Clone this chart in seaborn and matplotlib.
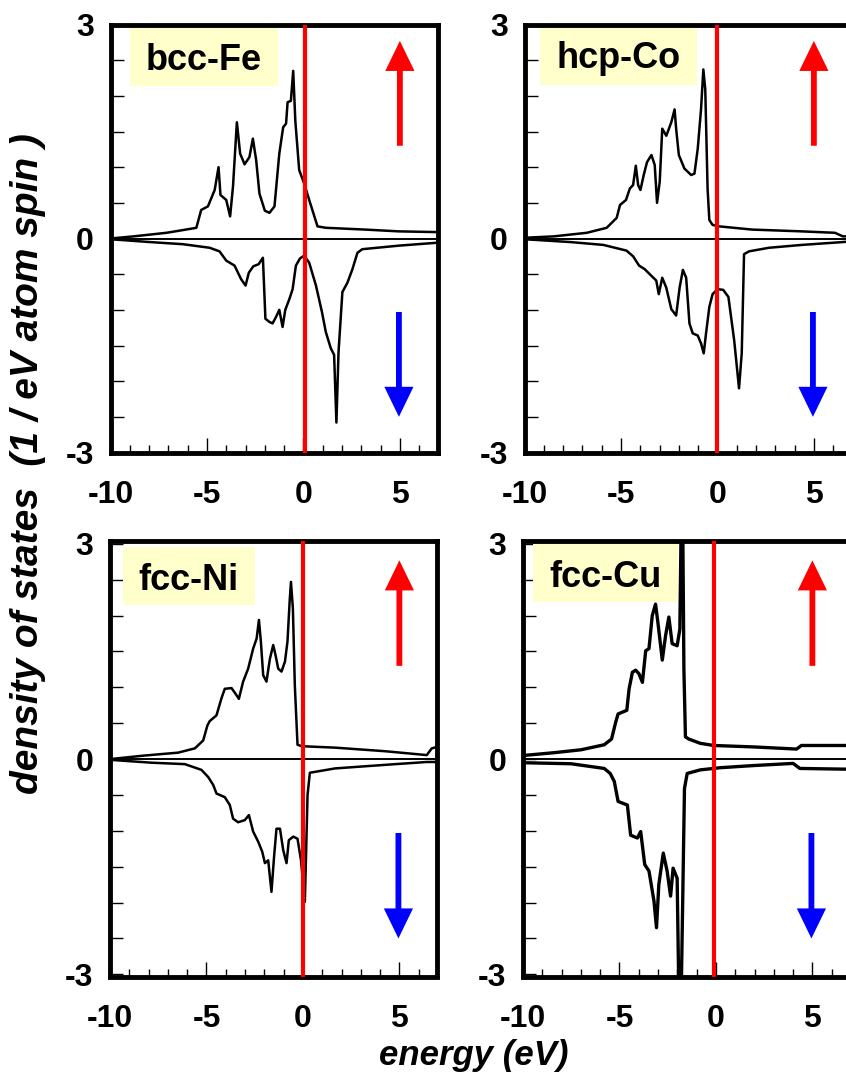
import seaborn as sns
import matplotlib.pyplot as plt
from matplotlib.patches import Rectangle
from matplotlib.ticker import FixedLocator, MultipleLocator

# panel names and Fermi level marker (eV)
metals = ["bcc-Fe", "hcp-Co", "fcc-Ni", "fcc-Cu"]
fermi = [0.1, 0.0, 0.0, -0.1]

# bcc-Fe, majority (up) and minority (down) spin DOS
fe_up_e = [-10, -8.8, -7.1, -6.2, -5.55, -5.3, -4.95, -4.6, -4.4, -4.3, -4.0, -3.8, -3.65,
           -3.45, -3.28, -3.05, -2.8, -2.62, -2.45, -2.28, -2.0, -1.76, -1.5, -1.25, -1.05,
           -0.9, -0.82, -0.65, -0.53, -0.42, -0.22, 0.04, 0.3, 0.73, 1.16, 3.2, 4.95, 6.9]
fe_up = [0.0, 0.03, 0.08, 0.12, 0.15, 0.40, 0.45, 0.68, 1.00, 0.61, 0.54, 0.31, 0.73,
         1.63, 1.19, 1.04, 1.14, 1.40, 1.10, 0.63, 0.39, 0.36, 0.45, 1.19, 1.56,
         1.61, 1.91, 1.93, 2.35, 1.65, 0.96, 0.77, 0.54, 0.17, 0.15, 0.125, 0.10, 0.09]
fe_dn_e = [-10, -7.96, -6.24, -4.86, -4.35, -4.0, -3.57, -3.23, -3.0, -2.83, -2.6, -2.32,
           -2.1, -1.97, -1.76, -1.6, -1.42, -1.25, -1.08, -0.94, -0.73, -0.56, -0.39, -0.18,
           0.04, 0.3, 0.65, 0.96, 1.16, 1.42, 1.59, 1.71, 1.82, 2.02, 2.28, 2.54, 2.8, 3.05,
           4.95, 6.9]
fe_dn = [-0.01, -0.05, -0.08, -0.13, -0.18, -0.31, -0.38, -0.57, -0.66, -0.48, -0.39, -0.36,
         -0.27, -1.125, -1.17, -1.19, -1.10, -1.00, -1.24, -1.0, -0.85, -0.71, -0.38, -0.28,
         -0.24, -0.34, -0.66, -1.03, -1.31, -1.54, -1.63, -2.58, -1.59, -0.75, -0.62, -0.43,
         -0.20, -0.15, -0.10, -0.06]

# hcp-Co
co_up_e = [-10, -8.48, -6.77, -5.74, -5.22, -5.05, -4.74, -4.54, -4.37, -4.23, -4.11, -3.99,
           -3.82, -3.65, -3.42, -3.25, -3.13, -2.99, -2.86, -2.65, -2.39, -2.22, -2.14, -2.0,
           -1.71, -1.36, -1.19, -1.02, -0.85, -0.73, -0.63, -0.51, -0.42, -0.25, 0.09, 1.8,
           4.37, 6.09, 6.5, 6.9]
co_up = [0.01, 0.03, 0.08, 0.15, 0.29, 0.47, 0.54, 0.70, 0.75, 1.02, 0.75, 0.68,
         0.89, 1.07, 1.17, 1.03, 0.50, 0.80, 1.54, 1.44, 1.63, 1.81, 1.54, 1.17,
         0.98, 0.89, 0.91, 1.26, 1.81, 2.37, 2.09, 0.70, 0.26, 0.19, 0.17, 0.125,
         0.10, 0.08, 0.03, 0.03]
co_dn_e = [-10, -7.62, -5.91, -4.71, -4.37, -4.06, -3.77, -3.51, -3.17, -3.04, -2.86, -2.65,
           -2.39, -2.14, -1.96, -1.79, -1.62, -1.45, -1.28, -1.02, -0.85, -0.71, -0.59, -0.42,
           -0.25, 0.01, 0.3, 0.57, 0.87, 1.12, 1.26, 1.38, 1.64, 2.67, 4.37, 6.5, 6.9]
co_dn = [-0.01, -0.05, -0.09, -0.17, -0.25, -0.38, -0.43, -0.50, -0.59, -0.78, -0.55, -0.69,
         -0.99, -1.08, -0.69, -0.44, -0.55, -1.19, -1.33, -1.36, -1.47, -1.61, -1.33, -0.96,
         -0.78, -0.71, -0.72, -0.82, -1.43, -2.10, -1.61, -0.22, -0.18, -0.13, -0.09, -0.05,
         -0.04]

# fcc-Ni
ni_up_e = [-10, -8.2, -6.47, -5.6, -5.17, -4.95, -4.83, -4.48, -4.22, -4.05, -3.7, -3.44,
           -3.32, -3.1, -2.84, -2.58, -2.4, -2.28, -2.18, -2.06, -1.89, -1.71, -1.54, -1.42,
           -1.28, -1.11, -0.93, -0.8, -0.69, -0.62, -0.52, -0.42, -0.28, -0.07, 1.66, 4.26,
           6.42, 6.68, 6.95]
ni_up = [0.0, 0.05, 0.09, 0.15, 0.26, 0.47, 0.53, 0.61, 0.85, 0.98, 0.99, 0.89,
         0.84, 1.08, 1.26, 1.54, 1.68, 1.94, 1.64, 1.17, 1.08, 1.40, 1.59, 1.45,
         1.26, 1.22, 1.36, 1.64, 2.19, 2.47, 2.10, 1.03, 0.20, 0.18, 0.16, 0.11,
         0.056, 0.15, 0.17]
ni_dn_e = [-10, -7.85, -6.12, -5.26, -4.91, -4.65, -4.48, -4.05, -3.79, -3.62, -3.36, -3.01,
           -2.8, -2.58, -2.32, -2.11, -1.97, -1.8, -1.63, -1.49, -1.37, -1.19, -1.02, -0.85,
           -0.73, -0.5, -0.28, -0.10, 0.10, 0.24, 0.36, 1.66, 4.26, 6.42, 6.95]
ni_dn = [-0.01, -0.05, -0.07, -0.15, -0.25, -0.36, -0.48, -0.53, -0.64, -0.83, -0.88, -0.85,
         -0.78, -1.01, -1.15, -1.29, -1.45, -1.41, -1.85, -1.34, -0.97, -0.97, -1.27, -1.45,
         -1.13, -1.08, -1.11, -1.41, -1.99, -0.50, -0.19, -0.13, -0.08, -0.04, -0.04]

# fcc-Cu (d band peaks run off the frame)
cu_up_e = [-10, -8.37, -6.99, -5.79, -5.41, -5.19, -5.07, -4.62, -4.5, -4.33, -4.16, -3.99,
           -3.81, -3.64, -3.47, -3.3, -3.13, -3.01, -2.78, -2.61, -2.44, -2.27, -2.01, -1.87,
           -1.80, -1.72, -1.66, -1.58, -1.41, -0.81, -0.12, 1.94, 4.18, 4.43, 6.67, 6.95]
cu_up = [0.05, 0.09, 0.13, 0.20, 0.28, 0.52, 0.63, 0.68, 0.98, 1.21, 1.24, 1.19,
         1.07, 1.51, 1.54, 2.0, 2.16, 1.91, 1.38, 1.72, 1.98, 1.61, 1.58, 1.81,
         3.3, 3.3, 1.26, 0.31, 0.28, 0.22, 0.19, 0.17, 0.14, 0.19, 0.19, 0.19]
cu_dn_e = [-10, -7.51, -5.79, -5.48, -5.27, -5.07, -4.59, -4.42, -4.25, -4.07, -3.9, -3.69,
           -3.47, -3.21, -3.08, -2.96, -2.73, -2.53, -2.35, -2.22, -2.01, -1.92, -1.80, -1.63,
           -1.49, -0.81, 0.22, 1.94, 4.0, 4.35, 6.67, 6.95]
cu_dn = [-0.05, -0.065, -0.13, -0.20, -0.31, -0.59, -0.64, -1.06, -1.08, -1.10, -1.01, -1.47,
         -1.56, -1.98, -2.35, -1.75, -1.31, -1.56, -1.91, -1.52, -1.66, -3.3, -3.3, -0.41,
         -0.20, -0.15, -0.12, -0.09, -0.06, -0.13, -0.14, -0.14]

curves = [
    (fe_up_e, fe_up, fe_dn_e, fe_dn),
    (co_up_e, co_up, co_dn_e, co_dn),
    (ni_up_e, ni_up, ni_dn_e, ni_dn),
    (cu_up_e, cu_up, cu_dn_e, cu_dn),
]

# spin arrows (eV, DOS)
arrow_x = 5.0
up_arrow = (1.3, 2.77)
down_arrow = (-1.03, -2.5)

sns.set_style("ticks")
plt.rcParams['font.family'] = ['Liberation Sans', 'DejaVu Sans']
plt.rcParams['axes.unicode_minus'] = False
plt.rcParams['text.color'] = 'black'
plt.rcParams['xtick.color'] = 'black'
plt.rcParams['ytick.color'] = 'black'
plt.rcParams['axes.labelcolor'] = 'black'

W, H = 846, 1077
fig = plt.figure(figsize=(W / 100, H / 100), dpi=100)

# axes frames in pixels: left, top, right, bottom (right column runs off the page)
frames = [(110.5, 24.5, 437.5, 452.5), (524.5, 24.5, 851.5, 452.5),
          (110, 541, 437, 976.5), (523, 541, 850, 976.5)]
# name boxes in pixels and text anchor (center x, baseline y)
name_boxes = [(130, 27, 278, 86), (540, 25, 697, 85), (123, 547, 255, 605), (533, 543, 678, 602)]
name_text = [(204, 70.5), (619, 68), (188, 590), (606, 587)]
ylims = [(-3.0, 3.0), (-3.0, 3.0), (-3.03, 3.04), (-3.03, 3.04)]
lws = [1.8, 1.8, 1.8, 2.4]

for i, name in enumerate(metals):
    l, t, r, b = frames[i]
    ax = fig.add_axes([l / W, 1 - b / H, (r - l) / W, (b - t) / H])
    eu, du, ed, dd = curves[i]

    ax.axhline(0, color='black', lw=1.4, zorder=2)
    sns.lineplot(x=eu, y=du, ax=ax, color='black', lw=lws[i], estimator=None, sort=False, zorder=3)
    sns.lineplot(x=ed, y=dd, ax=ax, color='black', lw=lws[i], estimator=None, sort=False, zorder=3)
    ax.axvline(fermi[i], color='#ff0000', lw=3, zorder=4)

    ax.set_xlim(-10, 6.95)
    ax.set_ylim(*ylims[i])

    # spin direction arrows
    ax.annotate('', xy=(arrow_x, up_arrow[1]), xytext=(arrow_x, up_arrow[0]),
                arrowprops=dict(arrowstyle='simple,head_length=1.03,head_width=1.0,tail_width=0.2',
                                mutation_scale=21, color='#ff0000', lw=0, shrinkA=0, shrinkB=0))
    ax.annotate('', xy=(arrow_x - 0.05, down_arrow[1]), xytext=(arrow_x - 0.05, down_arrow[0]),
                arrowprops=dict(arrowstyle='simple,head_length=1.03,head_width=1.0,tail_width=0.2',
                                mutation_scale=21, color='#0000ff', lw=0, shrinkA=0, shrinkB=0))

    # yellow name box
    bx0, by0, bx1, by1 = name_boxes[i]
    ax.add_patch(Rectangle(((bx0 - l) / (r - l), (b - by1) / (b - t)),
                           (bx1 - bx0) / (r - l), (by1 - by0) / (b - t),
                           transform=ax.transAxes, facecolor='#ffffcc', edgecolor='none', zorder=1))
    tx, ty = name_text[i]
    ax.text((tx - l) / (r - l), (b - ty) / (b - t), name, transform=ax.transAxes,
            ha='center', va='baseline', fontsize=26, fontweight='bold', zorder=6)

    ax.xaxis.set_major_locator(FixedLocator([-10, -5, 0, 5]))
    ax.xaxis.set_minor_locator(MultipleLocator(1))
    ax.yaxis.set_major_locator(FixedLocator([-3, 0, 3]))
    ax.yaxis.set_minor_locator(MultipleLocator(0.5))
    ax.set_xticklabels(['-10', '-5', '0', '5'])
    ax.set_yticklabels(['-3', '0', '3'])
    ax.tick_params(axis='x', which='major', direction='in', length=11, width=1, pad=20,
                   labelsize=23, top=False)
    ax.tick_params(axis='x', which='minor', direction='in', length=6, width=1, top=False)
    ax.tick_params(axis='y', which='both', direction='in', length=9, width=1, right=False)
    ax.tick_params(axis='y', which='major', pad=12, labelsize=23)
    for lab in ax.get_xticklabels() + ax.get_yticklabels():
        lab.set_fontweight('bold')
    for sp in ax.spines.values():
        sp.set_visible(True)
        sp.set_linewidth(3.5)
        sp.set_color('black')
    ax.set_xlabel('')
    ax.set_ylabel('')

fig.text(28 / W, 1 - 464 / H, 'density of states  (1 / eV atom spin )', rotation=90,
         ha='center', va='center', fontsize=28, fontweight='bold', style='italic')
fig.text(474 / W, 1 - 1055 / H, 'energy (eV)', ha='center', va='center',
         fontsize=25, fontweight='bold', style='italic')

fig.savefig('out.png', dpi=100)
